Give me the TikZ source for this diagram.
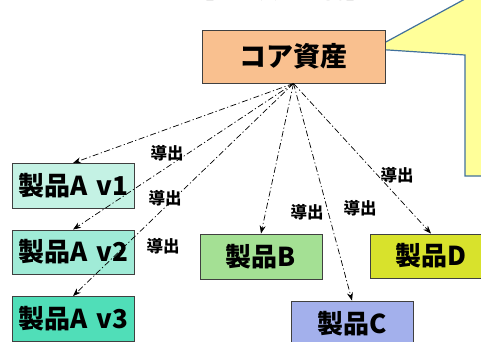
\documentclass[tikz,border=0pt]{standalone}
\usepackage{fontspec}
\setmainfont{Noto Sans CJK JP}
\usetikzlibrary{arrows.meta}
\definecolor{corefill}{HTML}{F9C08F}
\definecolor{aonefill}{HTML}{C4F2E4}
\definecolor{atwofill}{HTML}{A0EBD7}
\definecolor{athreefill}{HTML}{50DEB8}
\definecolor{bfill}{HTML}{A4E094}
\definecolor{cfill}{HTML}{A3B0EC}
\definecolor{dfill}{HTML}{D8E22C}
\definecolor{callfill}{HTML}{FFFF99}
\definecolor{callline}{HTML}{41719C}
\definecolor{boxline}{HTML}{404040}
\newcommand{\wsp}{\hspace{0.35em}}
\tikzset{
  prodbox/.style={draw=boxline, line width=0.9pt, minimum width=122pt, minimum height=45pt, inner sep=0pt,
    font=\fontsize{26}{28}\selectfont\bfseries},
  derive/.style={-{Stealth[length=8pt,width=6pt]}, line width=0.7pt,
    dash pattern=on 6pt off 2.5pt on 1.2pt off 2.5pt},
  dlabel/.style={font=\fontsize{16.5}{18}\selectfont\bfseries, inner sep=1pt}
}
\begin{document}
\begin{tikzpicture}[x=1pt,y=-1pt]
\useasboundingbox (0,0) rectangle (481,341);
\clip (0,0) rectangle (481,341);
% title (cut off at top)
\node[font=\fontsize{22}{24}\selectfont\bfseries, anchor=base] (title) at (280,-1.5) {【コア資産の例】};
% callout
\filldraw[fill=callfill, draw=callline, line width=1.2pt]
  (373,49) -- (465,-1) -- (465,-20) -- (500,-20) -- (500,176) -- (465,176) -- (465,55) -- cycle;
% core
\node[draw=boxline, line width=0.9pt, fill=corefill, minimum width=183pt, minimum height=53pt, inner sep=0pt,
  font=\fontsize{27}{29}\selectfont\bfseries] (core) at (293.5,56.5) {コア資産};
% products
\node[prodbox, fill=aonefill] (v1) at (73,186) {製品A\wsp v1};
\node[prodbox, fill=atwofill, minimum height=44pt] (v2) at (73,252) {製品A\wsp v2};
\node[prodbox, fill=athreefill] (v3) at (73,319) {製品A\wsp v3};
\node[prodbox, fill=bfill] (pb) at (261,256.5) {製品B};
\node[prodbox, fill=cfill] (pc) at (352,323.5) {製品C};
\node[prodbox, fill=dfill, minimum height=44pt] (pd) at (431,256) {製品D};
% arrows
\draw[derive] (core.south) -- (v1.north);
\draw[derive] (core.south) -- (v2.north);
\draw[derive] (core.south) -- (v3.north);
\draw[derive] (core.south) -- (pb.north);
\draw[derive] (core.south) -- (pc.north);
\draw[derive] (core.south) -- (pd.north);
% labels
\node[dlabel] (l1) at (167,153) {導出};
\node[dlabel] (l2) at (165,198) {導出};
\node[dlabel] (l3) at (163,246) {導出};
\node[dlabel] (l4) at (307,212) {導出};
\node[dlabel] (l5) at (360,208) {導出};
\node[dlabel] (l6) at (397,175) {導出};
\end{tikzpicture}
\end{document}
